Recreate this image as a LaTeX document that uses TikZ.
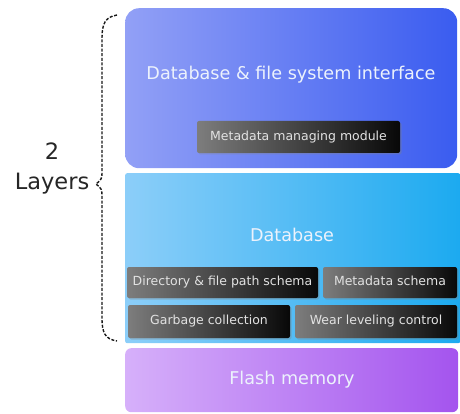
\documentclass[tikz,border=0pt]{standalone}
\usepackage{fontspec}
\setmainfont{DejaVu Sans}
\usetikzlibrary{shadows}
\definecolor{topL}{RGB}{146,160,246}
\definecolor{topR}{RGB}{58,92,240}
\definecolor{dbL}{RGB}{140,206,249}
\definecolor{dbR}{RGB}{28,170,240}
\definecolor{flL}{RGB}{214,176,250}
\definecolor{flR}{RGB}{164,84,238}
\definecolor{mgL}{RGB}{125,125,125}
\definecolor{mgR}{RGB}{8,8,8}
\definecolor{lbl}{RGB}{236,242,252}
\definecolor{sublbl}{RGB}{226,226,226}
\begin{document}
\begin{tikzpicture}[x=1pt,y=-1pt,
  layerbox/.style={draw=none,inner sep=0pt,anchor=north west},
  modbox/.style={draw=none,inner sep=0pt,rounded corners=2pt,left color=mgL,right color=mgR,
    text=sublbl,font=\fontsize{12.5}{14}\selectfont,text height=9.2pt,text depth=2.6pt,
    drop shadow={shadow xshift=1.5pt,shadow yshift=-1.5pt,opacity=0.35}},
  biglbl/.style={text=lbl,font=\fontsize{17.6}{20}\selectfont,inner sep=0pt}]
\useasboundingbox (0,0) rectangle (460,414);
% layers
\node[layerbox,minimum width=332pt,minimum height=160pt,rounded corners=14pt,left color=topL,right color=topR] (iface) at (125,8) {};
\node[layerbox,minimum width=335pt,minimum height=170pt,rounded corners=2pt,left color=dbL,right color=dbR] (db) at (125,173) {};
\node[layerbox,minimum width=333pt,minimum height=64pt,rounded corners=6pt,left color=flL,right color=flR] (flash) at (125,348) {};
% labels
\node[biglbl] (ifacelbl) at (291,75) {Database \& file system interface};
\node[biglbl] (dblbl) at (292,235) {Database};
\node[biglbl] (flashlbl) at (292,380) {Flash memory};
% modules
\node[modbox,minimum width=203pt,minimum height=32pt] (mmm) at (298.5,137) {Metadata managing module};
\node[modbox,minimum width=191pt,minimum height=31pt] (dir) at (222.5,282.5) {Directory \& file path schema};
\node[modbox,minimum width=134pt,minimum height=31pt] (ms) at (390,282.5) {Metadata schema};
\node[modbox,minimum width=162pt,minimum height=33pt] (gc) at (209,321.5) {Garbage collection};
\node[modbox,minimum width=162pt,minimum height=33pt] (wl) at (376,321.5) {Wear leveling control};
% brace
\coordinate (btop) at (117,15);
\coordinate (bbot) at (117,341);
\coordinate (btip) at (96,184);
\draw[line width=1.4pt,dash pattern=on 3pt off 1.6pt,color=black!90]
  (btop) .. controls (105,17) and (102,24) .. (102,38) -- (102,170)
  .. controls (102,179) .. (btip) .. controls (102,189) .. (102,198)
  -- (102,318) .. controls (102,333) and (105,339) .. (bbot);
\node[align=center,text=black!85,font=\fontsize{22.5}{30}\selectfont,inner sep=0pt] (layers) at (52,168) {2\\Layers};
\end{tikzpicture}
\end{document}
